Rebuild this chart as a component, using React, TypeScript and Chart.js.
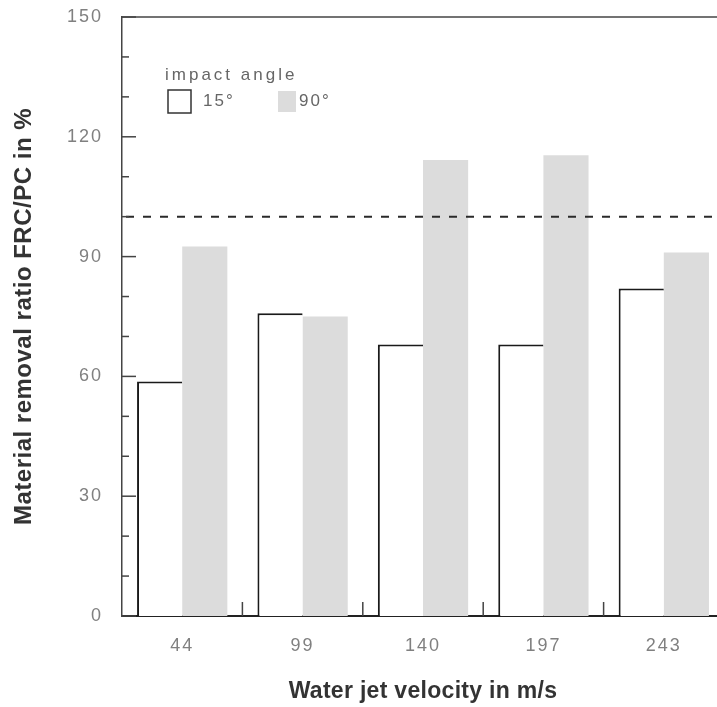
import React, { useEffect, useRef } from "react";
import { Chart, registerables } from "chart.js";

Chart.register(...registerables);

const velocities = ["44", "99", "140", "197", "243"];
const angle15 = [58.7, 75.8, 68, 68, 82];
const angle90 = [92.5, 75, 114.2, 115.4, 91];
const seriesLabels = ["15°", "90°"];
const legendTitle = "impact angle";
const referenceRatio = 100;
const yMin = 0;
const yMax = 150;
const yLabelStep = 30;
const yMinorStep = 10;
const xTitle = "Water jet velocity in m/s";
const yTitle = "Material removal ratio FRC/PC in %";

const FONT = "'Liberation Sans', Arial, sans-serif";

const spacingPlugin = {
  id: "tickSpacing",
  beforeDraw(chart: any) {
    Object.values(chart.scales).forEach((scale: any) => {
      if (scale.__spaced) return;
      scale.__spaced = true;
      const orig = scale.drawLabels.bind(scale);
      scale.drawLabels = (area: any) => {
        const c = scale.ctx;
        const prev = c.letterSpacing;
        c.letterSpacing = "2px";
        orig(area);
        c.letterSpacing = prev || "0px";
      };
      const origTitle = scale.drawTitle.bind(scale);
      scale.drawTitle = () => {
        const c = scale.ctx;
        const prev = c.letterSpacing;
        c.letterSpacing = scale.axis === "y" ? "0.5px" : "0.3px";
        origTitle();
        c.letterSpacing = prev || "0px";
      };
    });
  },
};

const decorPlugin = {
  id: "decor",
  afterDatasetsDraw(chart: any) {
    const { ctx, chartArea, scales } = chart;
    const xs = scales.x;
    const ys = scales.y;
    ctx.save();
    // reference dashed line
    const yRef = ys.getPixelForValue(referenceRatio);
    ctx.strokeStyle = "#2a2a2a";
    ctx.lineWidth = 2;
    ctx.setLineDash([8, 9]);
    ctx.beginPath();
    ctx.moveTo(chartArea.left + 4, yRef);
    ctx.lineTo(chartArea.right + 20, yRef);
    ctx.stroke();
    ctx.setLineDash([]);
    // top frame
    ctx.strokeStyle = "#444";
    ctx.lineWidth = 1.5;
    ctx.beginPath();
    ctx.moveTo(chartArea.left, chartArea.top);
    ctx.lineTo(chartArea.right + 20, chartArea.top);
    ctx.stroke();
    // inward y ticks
    for (let v = yMin; v <= yMax; v += yMinorStep) {
      const y = ys.getPixelForValue(v);
      const len = v % yLabelStep === 0 ? 14 : 7;
      ctx.beginPath();
      ctx.moveTo(chartArea.left, y);
      ctx.lineTo(chartArea.left + len, y);
      ctx.stroke();
    }
    // inward x ticks between categories
    for (let i = 0; i < velocities.length - 1; i++) {
      const x = (xs.getPixelForValue(i) + xs.getPixelForValue(i + 1)) / 2;
      ctx.beginPath();
      ctx.moveTo(x, chartArea.bottom);
      ctx.lineTo(x, chartArea.bottom - 14);
      ctx.stroke();
    }
    // legend
    const ds = chart.data.datasets;
    const lx = chartArea.left + 43;
    const ly = chartArea.top + 58;
    ctx.fillStyle = "#666";
    ctx.font = `17px ${FONT}`;
    ctx.letterSpacing = "3px";
    ctx.textBaseline = "middle";
    ctx.textAlign = "left";
    ctx.fillText(legendTitle, lx, ly);
    const by = ly + 15;
    ctx.letterSpacing = "2px";
    // box 1
    ctx.fillStyle = ds[0].backgroundColor;
    ctx.fillRect(lx + 3, by, 23, 23);
    ctx.strokeStyle = "#333";
    ctx.lineWidth = 1.5;
    ctx.strokeRect(lx + 3, by, 23, 23);
    ctx.fillStyle = "#666";
    ctx.fillText(ds[0].label, lx + 38, by + 11);
    // box 2
    ctx.fillStyle = ds[1].backgroundColor;
    ctx.fillRect(lx + 113, by + 1, 18, 21);
    ctx.fillStyle = "#666";
    ctx.fillText(ds[1].label, lx + 134, by + 11);
    ctx.letterSpacing = "0px";
    ctx.restore();
  },
};

export default function App() {
  const ref = useRef<HTMLCanvasElement>(null);
  useEffect(() => {
    if (!ref.current) return;
    const chart = new Chart(ref.current, {
      type: "bar",
      data: {
        labels: velocities,
        datasets: [
          {
            label: seriesLabels[0],
            data: angle15,
            backgroundColor: "#ffffff",
            borderColor: "#1a1a1a",
            borderWidth: { top: 2, left: 2, right: 0, bottom: 0 } as any,
            borderSkipped: false as any,
            categoryPercentage: 0.75,
            barPercentage: 1,
          },
          {
            label: seriesLabels[1],
            data: angle90,
            backgroundColor: "#dcdcdc",
            borderWidth: 0,
            categoryPercentage: 0.75,
            barPercentage: 1,
          },
        ],
      },
      options: {
        animation: false,
        responsive: false,
        devicePixelRatio: 1,
        layout: { padding: { top: 17, right: 16, left: 0, bottom: 0 } },
        plugins: { legend: { display: false }, tooltip: { enabled: false } },
        scales: {
          x: {
            grid: { display: false, drawTicks: false },
            border: { display: true, color: "#222", width: 2 },
            ticks: { padding: 19, font: { family: FONT, size: 18 }, color: "#808080" },
            title: {
              display: true,
              text: xTitle,
              font: { family: FONT, size: 23, weight: "bold" },
              color: "#333",
              padding: { top: 0, bottom: 2 },
            },
            afterFit: (s: any) => {
              s.height = 91;
              s.paddingLeft = 0;
              s.paddingRight = 0;
            },
          },
          y: {
            min: yMin,
            max: yMax,
            ticks: { stepSize: yLabelStep, padding: 19, font: { family: FONT, size: 18 }, color: "#808080" },
            grid: { display: false, drawTicks: false },
            border: { display: true, color: "#444", width: 1.5 },
            title: {
              display: true,
              text: yTitle,
              font: { family: FONT, size: 24, weight: "bold" },
              color: "#333",
              padding: { top: 10, bottom: 0 },
            },
            afterFit: (s: any) => {
              s.width = 122;
              s.paddingTop = 0;
              s.paddingBottom = 0;
            },
          },
        },
      },
      plugins: [spacingPlugin, decorPlugin],
    } as any);
    return () => chart.destroy();
  }, []);
  return (
    <div
      style={{
        position: "fixed",
        left: 0,
        top: 0,
        width: 717,
        height: 707,
        overflow: "hidden",
        background: "#fff",
      }}
    >
      <canvas ref={ref} width={740} height={707} style={{ display: "block", width: 740, height: 707 }} />
    </div>
  );
}
